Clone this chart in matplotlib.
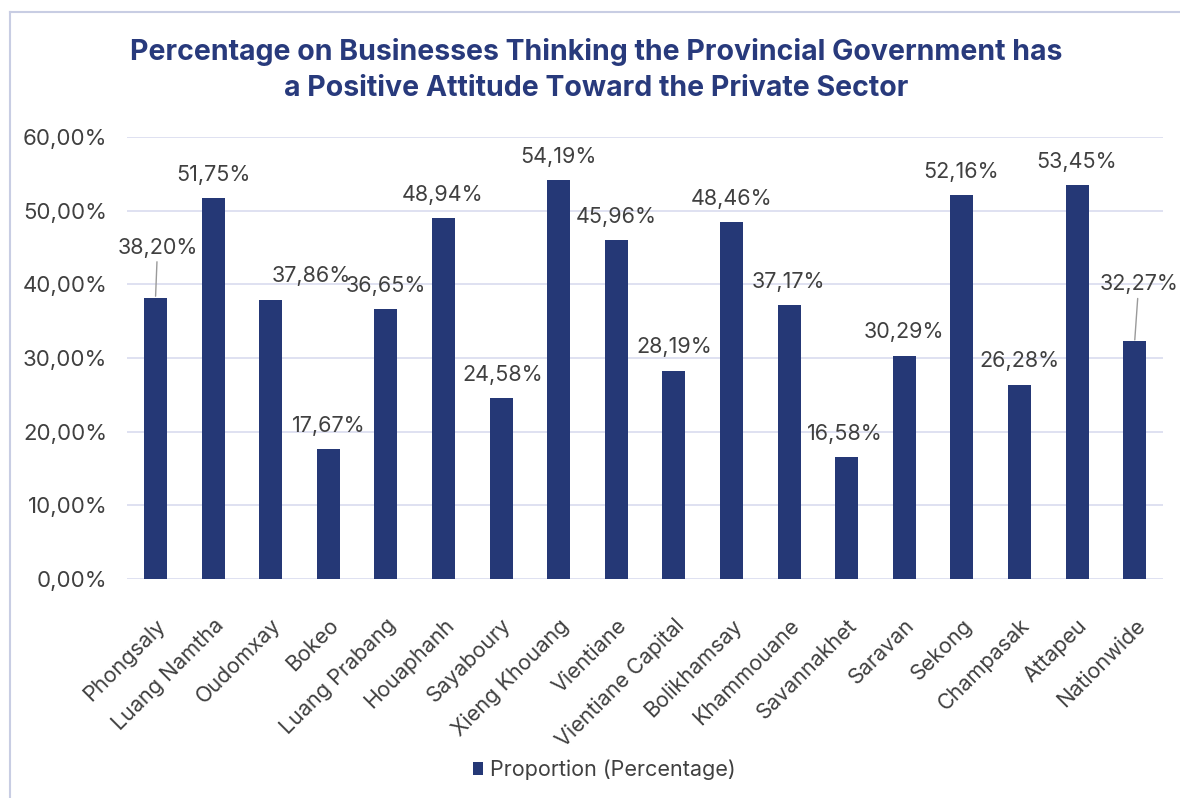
import matplotlib.pyplot as plt
from matplotlib.lines import Line2D
from matplotlib.ticker import FuncFormatter

plt.rcParams['font.family'] = ['Inter', 'DejaVu Sans']

provincias = ['Phongsaly', 'Luang Namtha', 'Oudomxay', 'Bokeo', 'Luang Prabang',
              'Houaphanh', 'Sayaboury', 'Xieng Khouang', 'Vientiane', 'Vientiane Capital',
              'Bolikhamsay', 'Khammouane', 'Savannakhet', 'Saravan', 'Sekong',
              'Champasak', 'Attapeu', 'Nationwide']
valores = [38.20, 51.75, 37.86, 17.67, 36.65, 48.94, 24.58, 54.19, 45.96, 28.19,
           48.46, 37.17, 16.58, 30.29, 52.16, 26.28, 53.45, 32.27]
serie = 'Proportion (Percentage)'
titulo1 = 'Percentage on Businesses Thinking the Provincial Government has'
titulo2 = 'a Positive Attitude Toward the Private Sector'

# deslocamento dos rotulos (pixels) em relacao ao topo da barra
desl_x = [2, 0, 41, 0, 0, -1, 2, 0, 0, 0, 0, -1, -2, 0, -1, 0, -1, 4]
desl_y = [50, 23, 24, 23, 23, 23, 23, 23, 23, 24, 23, 23, 23, 24, 23, 24, 23, 57]
com_linha = [0, 17]

azul = '#253876'
cinza = '#404040'
grade = '#d9dcef'

fig = plt.figure(figsize=(11.8, 7.98), dpi=100)
ax = fig.add_axes([0.1074, 0.2744, 0.8786, 0.5539])

x = list(range(len(provincias)))
ax.bar(x, valores, width=0.40, color=azul, label=serie, zorder=3)

for i, v in enumerate(valores):
    txt = f'{v:.2f}'.replace('.', ',') + '%'
    props = None
    if i in com_linha:
        props = dict(arrowstyle='-', color='#9a9a9a', lw=1, shrinkA=1, shrinkB=1)
    ax.annotate(txt, xy=(i, v), xytext=(desl_x[i], desl_y[i]), textcoords='offset pixels',
                ha='center', va='center', fontsize=15.5, color=cinza, arrowprops=props)

ax.set_xlim(-0.5, len(provincias) - 0.5)
ax.set_ylim(0, 60)
ax.set_yticks(range(0, 61, 10))
ax.yaxis.set_major_formatter(FuncFormatter(lambda v, p: f'{v:.2f}'.replace('.', ',') + '%'))
ax.grid(axis='y', color=grade, lw=1.2, zorder=0)
for s in ax.spines.values():
    s.set_visible(False)
ax.tick_params(axis='y', length=0, pad=14, labelsize=16, labelcolor=cinza)
ax.set_xticks(x)
ax.set_xticklabels(provincias, rotation=45, ha='right', va='top', rotation_mode='anchor')
ax.tick_params(axis='x', length=0, pad=26, labelsize=15.5, labelcolor=cinza)

fig.text(0.505, 1 - 52 / 798, titulo1, ha='center', va='center', fontsize=20.5,
         fontweight='bold', color='#283a7c')
fig.text(0.505, 1 - 88 / 798, titulo2, ha='center', va='center', fontsize=20.5,
         fontweight='bold', color='#283a7c')

fig.legend(loc='center', bbox_to_anchor=(0.512, 1 - 770 / 798), frameon=False, fontsize=15.5,
           handlelength=0.5, handleheight=0.5, handletextpad=0.3, labelcolor=cinza)

# moldura do grafico (so aparecem os lados esquerdo e de cima)
fig.add_artist(Line2D([9.5 / 1180, 9.5 / 1180], [0, 1 - 11.7 / 798], transform=fig.transFigure,
                      color='#c8cde3', lw=1.5))
fig.add_artist(Line2D([9.5 / 1180, 1], [1 - 11.7 / 798, 1 - 11.7 / 798], transform=fig.transFigure,
                      color='#c8cde3', lw=1.5))

fig.savefig('out.png', dpi=100)
